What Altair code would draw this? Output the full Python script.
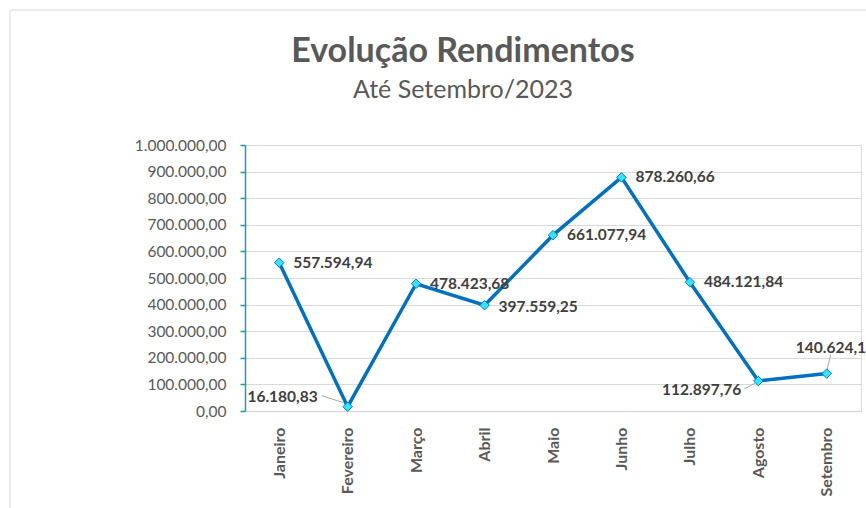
import altair as alt
import pandas as pd

months = ["Janeiro", "Fevereiro", "Março", "Abril", "Maio", "Junho", "Julho", "Agosto", "Setembro"]
values = [557594.94, 16180.83, 478423.68, 397559.25, 661077.94, 878260.66, 484121.84, 112897.76, 140624.13]
title_text = "Evolução Rendimentos"
subtitle_text = "Até Setembro/2023"
y_ticks = [0, 100000, 200000, 300000, 400000, 500000, 600000, 700000, 800000, 900000, 1000000]


def br(v):
    s = f"{v:,.2f}"
    return s.replace(",", "_").replace(".", ",").replace("_", ".")


df = pd.DataFrame({"mes": months, "valor": values, "rotulo": [br(v) for v in values]})

FONT = "Lato"
W, H = 616, 266

# label placement (align, dx, dy) per month -- styling only
place = {
    "Janeiro": ("left", 14, 0),
    "Fevereiro": ("right", -30, -10),
    "Março": ("left", 14, 0),
    "Abril": ("left", 14, 2),
    "Maio": ("left", 14, 0),
    "Junho": ("left", 14, 0),
    "Julho": ("left", 14, 0),
    "Agosto": ("right", -17, 9),
    "Setembro": ("left", -31, -26),
}
# leader lines (x2Offset, y2Offset, xOffset, yOffset)
leaders = {
    "Fevereiro": (-26, -11, -4, -4),
    "Agosto": (-14, 8, -3, 2),
    "Setembro": (4, -19, 0, -3),
}

x_enc = alt.X("mes:N", sort=months, scale=alt.Scale(type="point", padding=0.5),
              axis=alt.Axis(title=None, labelAngle=-90, labelAlign="right", labelBaseline="middle",
                            labelFont=FONT, labelFontSize=16, labelFontWeight="bold", labelColor="#595959",
                            labelPadding=16, ticks=False, domainColor="#d9d9d9", domainWidth=1.5, grid=False,
                            labelOverlap=False))
y_enc = alt.Y("valor:Q", scale=alt.Scale(domain=[0, 1000000], nice=False),
              axis=alt.Axis(title=None, values=y_ticks,
                            labelExpr="join(split(format(datum.value, ',.0f'), ','), '.') + ',00'",
                            labelFont=FONT, labelFontSize=15.5, labelOverlap=False,
                            labelColor="#595959", labelPadding=14, tickSize=5, tickColor="#1a9e9e",
                            domainColor="#1a9e9e", domainWidth=1.5, tickWidth=1.5,
                            gridColor="#d9d9d9", gridWidth=1))
y2_enc = alt.Y2("valor:Q")
x2_enc = alt.X2("mes:N")

base = alt.Chart(df)

line = base.mark_line(color="#0070c0", strokeWidth=3.5).encode(x=x_enc, y=y_enc)
pts = base.mark_point(shape="diamond", filled=True, fill="#33e6ff", stroke="#0a78c8",
                      strokeWidth=1, size=90, opacity=1).encode(x=x_enc, y=y_enc)

layers = [line]
for m, (x2o, y2o, xo, yo) in leaders.items():
    layers.append(
        base.transform_filter(alt.datum.mes == m).mark_rule(
            color="#a6a6a6", strokeWidth=1, xOffset=xo, yOffset=yo, x2Offset=x2o, y2Offset=y2o
        ).encode(x=x_enc, x2=x2_enc, y=y_enc, y2=y2_enc)
    )
layers.append(pts)
for m, (al, dx, dy) in place.items():
    layers.append(
        base.transform_filter(alt.datum.mes == m).mark_text(
            align=al, baseline="middle", dx=dx, dy=dy, font=FONT, fontSize=15.5,
            fontWeight="bold", color="#404040"
        ).encode(x=x_enc, y=y_enc, text="rotulo:N")
    )

tdf = pd.DataFrame({"t": [title_text], "s": [subtitle_text]})
title_l = alt.Chart(tdf).mark_text(align="center", baseline="alphabetic", font=FONT, fontSize=34,
                                   fontWeight="bold", color="#595959").encode(
    x=alt.value(218), y=alt.value(-83), text="t:N")
sub_l = alt.Chart(tdf).mark_text(align="center", baseline="alphabetic", font=FONT, fontSize=25,
                                 color="#595959").encode(
    x=alt.value(218), y=alt.value(-47), text="s:N")
frame_h = alt.Chart(tdf).mark_rule(color="#d9d9d9", strokeWidth=1).encode(
    x=alt.value(-235), x2=alt.value(640), y=alt.value(-135))
frame_v = alt.Chart(tdf).mark_rule(color="#d9d9d9", strokeWidth=1).encode(
    x=alt.value(-235), y=alt.value(-135), y2=alt.value(380))

chart = alt.layer(*layers, frame_h, frame_v, title_l, sub_l).properties(
    width=W, height=H,
    autosize=alt.AutoSizeParams(type="none"),
    padding={"left": 245, "top": 145, "right": 5, "bottom": 97},
).configure_view(stroke=None).configure(background="white")

chart.save("out.html", embed_options={"renderer": "svg", "actions": False})
